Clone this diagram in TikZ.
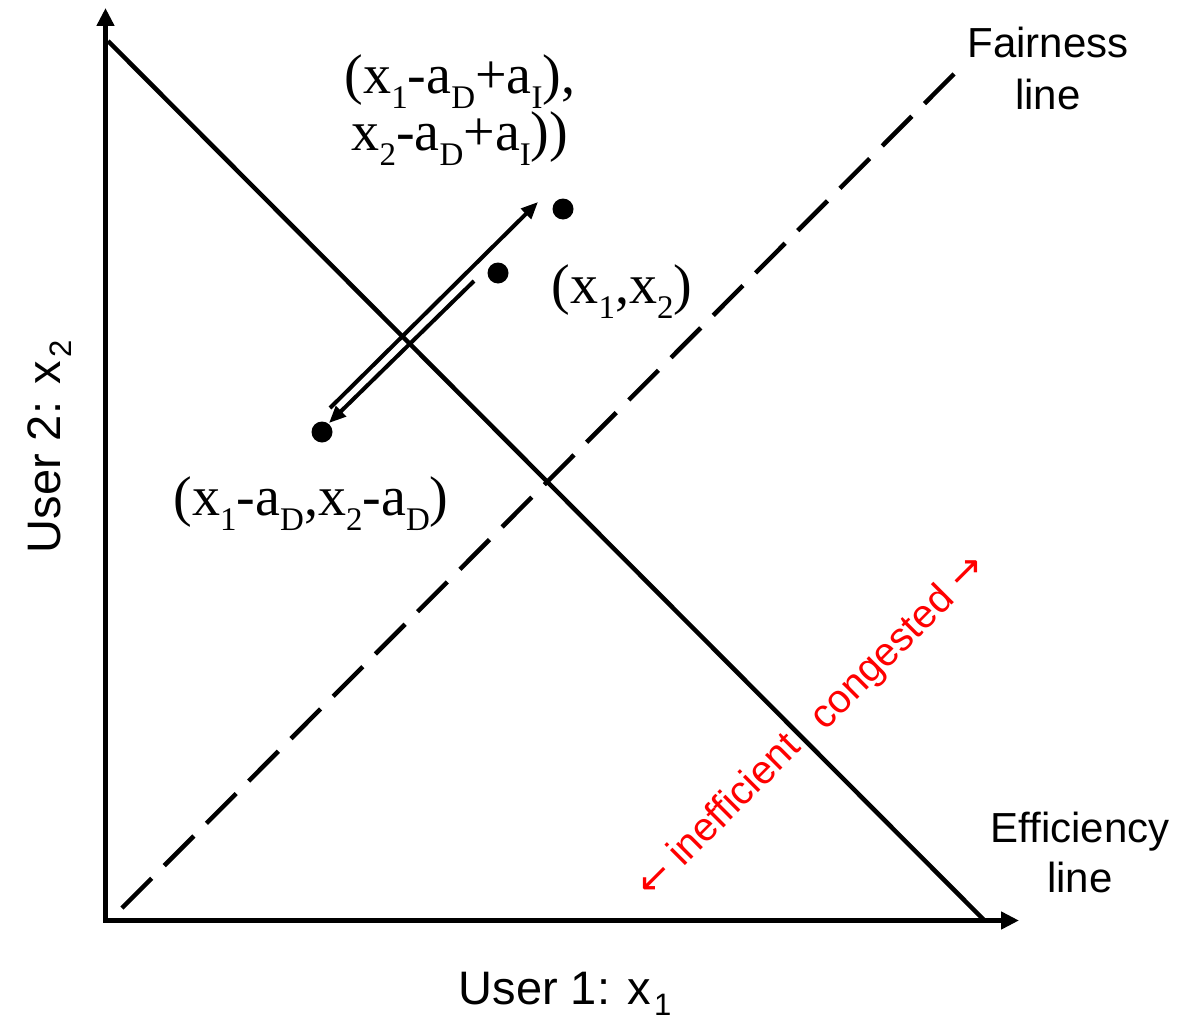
\documentclass[tikz,border=0pt]{standalone}
\usepackage{fontspec}
\setmainfont{Liberation Serif}
\newfontfamily\arialf{Liberation Sans}
\newfontfamily\dejaf{DejaVu Sans}
\usetikzlibrary{arrows.meta}
\newcommand\tsub[1]{\raisebox{-15pt}{\fontsize{33}{33}\selectfont #1}}
\newcommand\asub[1]{\kern3pt\raisebox{-11pt}{\fontsize{31}{31}\selectfont #1}}
\begin{document}
\begin{tikzpicture}[x=1pt,y=-1pt,
 axisline/.style={line width=5pt,-{Triangle[length=18pt,width=17pt]}},
 effline/.style={line width=4.5pt},
 fairline/.style={line width=4.5pt,dash pattern=on 42pt off 17.8pt},
 movearrow/.style={line width=4pt,-{Triangle[length=17pt,width=14pt]}},
 dot/.style={circle,fill=black,minimum size=21pt,inner sep=0},
 tlabel/.style={font=\fontsize{56}{58}\selectfont,inner sep=0,anchor=base},
 alabel/.style={font=\arialf\fontsize{42}{46}\selectfont,inner sep=0,anchor=base},
 axlabel/.style={font=\arialf\fontsize{47}{50}\selectfont,inner sep=0,anchor=base},
 redlabel/.style={font=\arialf\fontsize{40}{42}\selectfont,text=red,inner sep=0,rotate=45},
]
\useasboundingbox (0,0) rectangle (1178,1025);
\coordinate (O) at (105.5,920.5);
\coordinate (Ox) at (103,920.5);
\coordinate (ytip) at (105.5,8);
\coordinate (xtip) at (1019,920.5);
\draw[axisline] (O) -- (ytip);
\draw[axisline] (Ox) -- (xtip);
% efficiency line
\coordinate (e1) at (108,41);
\coordinate (e2) at (984,920);
\draw[effline] (e1) -- (e2);
% fairness line
\coordinate (f1) at (122,908);
\coordinate (f2) at (955,73);
\draw[fairline] (f1) -- (f2);
% points
\node[dot] (pmid) at (498,273) {};
\node[dot] (pup) at (563,209) {};
\node[dot] (pdown) at (322,432) {};
% move arrows
\coordinate (ua0) at (330,408);
\coordinate (ua1) at (538,202);
\coordinate (da0) at (474,281);
\coordinate (da1) at (329,423);
\draw[movearrow] (ua0) -- (ua1);
\draw[movearrow] (da0) -- (da1);
% labels
\node[tlabel] (lup1) at (460,93) {(x\tsub{1}-a\tsub{D}+a\tsub{I}),};
\node[tlabel] (lup2) at (460,150) {x\tsub{2}-a\tsub{D}+a\tsub{I}))};
\node[tlabel] (lmid) at (622,303) {(x\tsub{1},x\tsub{2})};
\node[tlabel] (ldown) at (311,515) {(x\tsub{1}-a\tsub{D},x\tsub{2}-a\tsub{D})};
\node[alabel] (fair1) at (1048,58) {Fairness};
\node[alabel] (fair2) at (1048,110) {line};
\node[alabel] (eff1) at (1080,842) {Efficiency};
\node[alabel] (eff2) at (1080,892) {line};
\node[axlabel] (xlab) at (565,1004) {User 1: x\asub{1}};
\node[axlabel,rotate=90] (ylab) at (60,447) {User 2: x\asub{2}};
\node[redlabel] (cong) at (899,643) {congested {\dejaf →}};
\node[redlabel] (ineff) at (717,814) {{\dejaf ←} inefficient};
\end{tikzpicture}
\end{document}
